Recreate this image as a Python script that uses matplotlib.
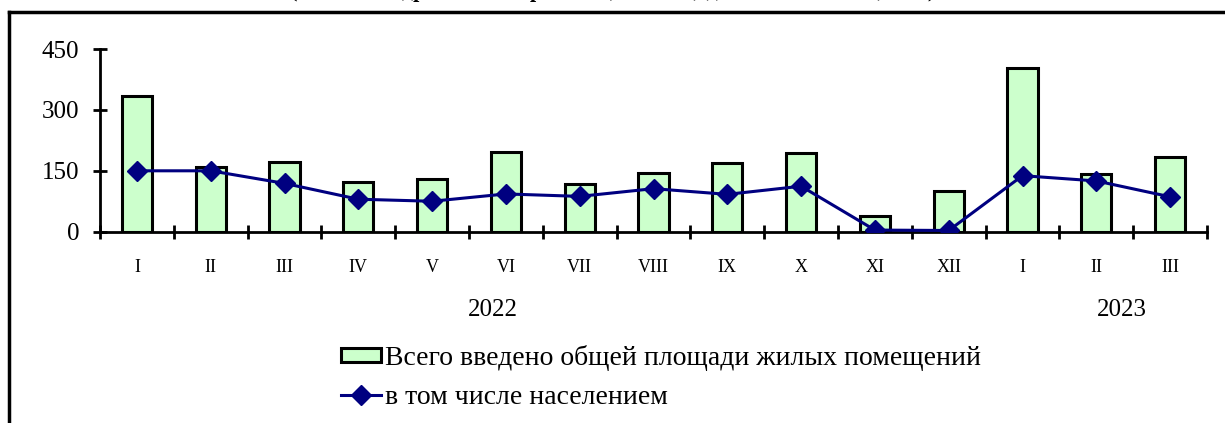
import numpy as np
import matplotlib
matplotlib.use('Agg')
import matplotlib.pyplot as plt
from matplotlib.lines import Line2D

plt.rcParams['font.family'] = ['Liberation Serif', 'DejaVu Serif']

months = ['I', 'II', 'III', 'IV', 'V', 'VI', 'VII', 'VIII', 'IX', 'X', 'XI', 'XII', 'I', 'II', 'III']
total = [335, 159, 171, 122, 131, 197, 117, 145, 168, 193, 39, 101, 404, 143, 185]
population = [150, 150, 119, 80, 75, 93, 87, 106, 92, 112, 4, 3, 138, 125, 86]
years = ['2022', '2023']
year_pos = [5.33, 13.85]
yticks = [0, 150, 300, 450]

fig = plt.figure(figsize=(12.25, 4.23), dpi=100)
ax = fig.add_axes([100/1225, 1 - 231.7/423, 1107/1225, 182.7/423])

x = np.arange(len(months)) + 0.5
bars = ax.bar(x, total, width=0.41, color='#CCFFCC', edgecolor='black', linewidth=2.2,
              label='Всего введено общей площади жилых помещений', zorder=2)
line, = ax.plot(x, population, color='#000080', linewidth=2.2, marker='D', markersize=10,
                label='в том числе населением', zorder=3)

ax.set_xlim(0, len(months))
ax.set_ylim(0, 450)
ax.set_yticks(yticks)
ax.set_xticks(np.arange(len(months) + 1))
ax.set_xticklabels([])
ax.set_xticks(x, minor=True)
ax.set_xticklabels(months, minor=True, fontsize=13)
ax.tick_params(axis='x', which='minor', length=0, pad=20)
ax.tick_params(axis='x', which='major', direction='inout', length=10, width=2)
ax.tick_params(axis='y', direction='inout', length=10, width=2, labelsize=18, pad=10)
for s in ['top', 'right']:
    ax.spines[s].set_visible(False)
for s in ['left', 'bottom']:
    ax.spines[s].set_linewidth(2)

for yr, p in zip(years, year_pos):
    ax.text(p, -0.43, yr, transform=ax.get_xaxis_transform(), ha='center', va='center', fontsize=18)

fig.legend([bars, line], [bars.get_label(), line.get_label()],
           loc='upper left', bbox_to_anchor=(327/1225, 1 - 331/423), frameon=False,
           fontsize=20, handlelength=1.45, handleheight=0.42, handletextpad=0.15,
           labelspacing=0.5, borderpad=0)

# frame around the chart
fig.add_artist(Line2D([9/1225, 1], [1 - 12/423, 1 - 12/423], color='black', linewidth=2.5))
fig.add_artist(Line2D([9/1225, 9/1225], [0, 1 - 12/423], color='black', linewidth=2.5))

# title line above, mostly outside the picture as in the source
fig.text(0.5, 1 + 3/423, '(тысяч квадратных метров общей площади жилых помещений)',
         ha='center', va='baseline', fontsize=16, fontweight='bold')

fig.savefig('out.png', dpi=100)
